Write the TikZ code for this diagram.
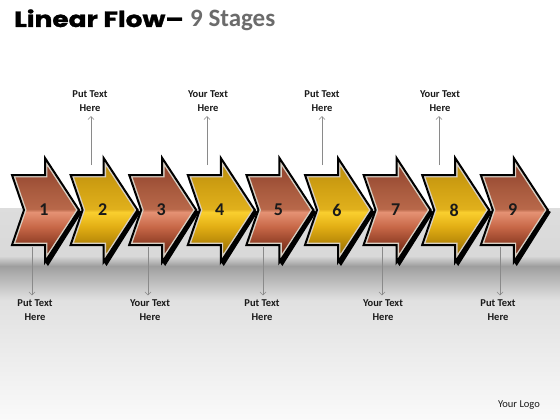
\documentclass[tikz,border=0pt]{standalone}
\usepackage{fontspec}
\setmainfont{Carlito}
\newfontfamily\titlefont{Poppins}[BoldFeatures={FakeBold=1.3}]
\usetikzlibrary{arrows.meta}

\definecolor{brA}{HTML}{5A2010}
\definecolor{brB}{HTML}{8A3A22}
\definecolor{brC}{HTML}{C86848}
\definecolor{brD}{HTML}{E59274}
\definecolor{brE}{HTML}{B8684A}
\definecolor{brF}{HTML}{A85A3E}
\definecolor{brG}{HTML}{934630}
\definecolor{brH}{HTML}{7A3520}
\definecolor{gdA}{HTML}{7E5A02}
\definecolor{gdB}{HTML}{B08206}
\definecolor{gdC}{HTML}{E2AE14}
\definecolor{gdD}{HTML}{FACF2E}
\definecolor{gdE}{HTML}{E0B01C}
\definecolor{gdF}{HTML}{D2A214}
\definecolor{gdG}{HTML}{C0920E}
\definecolor{gdH}{HTML}{A67C06}
\definecolor{rimcol}{HTML}{D8D0C4}
\definecolor{bandgray}{HTML}{D9D9D9}
\definecolor{connGray}{HTML}{8A8A8A}
\definecolor{subGray}{HTML}{6B6B6B}
\definecolor{txt}{HTML}{1A1A1A}

\pgfdeclareverticalshading{brownsh}{100bp}{color(0bp)=(brA); color(25bp)=(brA); color(33bp)=(brB); color(42bp)=(brC); color(49bp)=(brD); color(50.5bp)=(brE); color(60bp)=(brF); color(70bp)=(brG); color(75bp)=(brH); color(100bp)=(brH)}
\pgfdeclareverticalshading{goldsh}{100bp}{color(0bp)=(gdA); color(25bp)=(gdA); color(33bp)=(gdB); color(42bp)=(gdC); color(49bp)=(gdD); color(50.5bp)=(gdE); color(60bp)=(gdF); color(70bp)=(gdG); color(75bp)=(gdH); color(100bp)=(gdH)}

\tikzset{
  numlbl/.style={font=\fontsize{18}{20}\selectfont\bfseries, text=txt, inner sep=0pt},
  textlbl/.style={font=\fontsize{10.5}{14}\selectfont\bfseries, text=txt, align=center, inner sep=2pt},
  conn/.style={draw=connGray, line width=0.6pt, -{Straight Barb[length=3pt,width=6pt]}, shorten >=2pt},
}

\newcommand\stagearrow[4]{% #1 x0, #2 shading, #3 number, #4 name
  \begin{scope}[xshift=#1pt]
    \fill[black] (67,210) -- (33,262) -- (36,266) -- (70,212) -- cycle;
    \begin{scope}
      \clip (0,175) -- (33,175) -- (33,158) -- (67,210) -- (33,262) -- (33,245) -- (0,245) -- (12,210) -- cycle;
      \shade[shading=#2, shading angle=0] (0,175) -- (33,175) -- (33,158) -- (67,210) -- (33,262) -- (33,245) -- (0,245) -- (12,210) -- cycle;
      \draw[rimcol, line width=4.8pt] (0,175) -- (33,175) -- (33,158) -- (67,210) -- (33,262) -- (33,245) -- (0,245) -- (12,210) -- cycle;
    \end{scope}
    \draw[black, line width=2pt] (0,175) -- (33,175) -- (33,158) -- (67,210) -- (33,262) -- (33,245) -- (0,245) -- (12,210) -- cycle;
    \node[numlbl] (#4) at (32,210) {#3};
  \end{scope}
}

\begin{document}
\begin{tikzpicture}[x=1pt,y=-1pt]
\useasboundingbox (0,0) rectangle (560,420);
% background
\fill[white] (0,0) rectangle (560,420);
\shade[top color=bandgray!90, bottom color=bandgray] (0,208) rectangle (560,256);
\shade[top color=bandgray, bottom color=black!38] (0,256) rectangle (560,266);
\shade[top color=black!38, bottom color=black!12] (0,266) rectangle (560,300);
\shade[top color=black!12, bottom color=black!2] (0,300) rectangle (560,420);

% title
\node[anchor=base west, inner sep=0pt] (title) at (14,27) {\scalebox{1.2}[1]{\titlefont\fontsize{22}{24}\selectfont\bfseries Linear Flow–}};
\node[anchor=base west, inner sep=0pt, text=subGray] (subtitle) at (190,27) {\fontsize{25}{28}\selectfont\bfseries 9 Stages};

% arrows
\stagearrow{12}{brownsh}{1}{s1}
\stagearrow{70.6}{goldsh}{2}{s2}
\stagearrow{129.2}{brownsh}{3}{s3}
\stagearrow{187.8}{goldsh}{4}{s4}
\stagearrow{246.4}{brownsh}{5}{s5}
\stagearrow{305}{goldsh}{6}{s6}
\stagearrow{363.6}{brownsh}{7}{s7}
\stagearrow{422.2}{goldsh}{8}{s8}
\stagearrow{480.8}{brownsh}{9}{s9}

% top labels
\node[textlbl] (L2) at (90,101.5) {Put Text\\Here};
\node[textlbl] (L4) at (208,101.5) {Your Text\\Here};
\node[textlbl] (L6) at (322,101.5) {Put Text\\Here};
\node[textlbl] (L8) at (440,101.5) {Your Text\\Here};
\coordinate (t2) at (91,165);
\coordinate (t4) at (207,165);
\coordinate (t6) at (322,165);
\coordinate (t8) at (439,165);
\draw[conn] (t2) -- (t2 |- L2.south);
\draw[conn] (t4) -- (t4 |- L4.south);
\draw[conn] (t6) -- (t6 |- L6.south);
\draw[conn] (t8) -- (t8 |- L8.south);

% bottom labels
\node[textlbl] (L1) at (35,310) {Put Text\\Here};
\node[textlbl] (L3) at (150,310) {Your Text\\Here};
\node[textlbl] (L5) at (262,310) {Put Text\\Here};
\node[textlbl] (L7) at (383,310) {Your Text\\Here};
\node[textlbl] (L9) at (498,310) {Put Text\\Here};
\coordinate (b1) at (32,247);
\coordinate (b3) at (148,247);
\coordinate (b5) at (263,247);
\coordinate (b7) at (382,247);
\coordinate (b9) at (500,247);
\draw[conn] (b1) -- (b1 |- L1.north);
\draw[conn] (b3) -- (b3 |- L3.north);
\draw[conn] (b5) -- (b5 |- L5.north);
\draw[conn] (b7) -- (b7 |- L7.north);
\draw[conn] (b9) -- (b9 |- L9.north);

% logo
\node[font=\fontsize{10.5}{12}\selectfont, text=txt, inner sep=0pt] (logo) at (519,405) {Your Logo};
\end{tikzpicture}
\end{document}
